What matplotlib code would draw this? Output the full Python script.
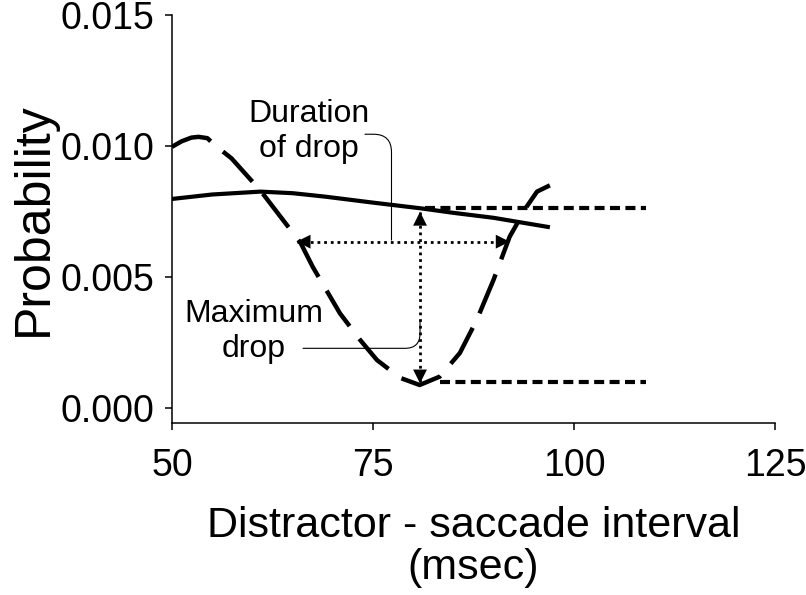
import numpy as np
import matplotlib.pyplot as plt
from matplotlib.ticker import FormatStrFormatter

plt.rcParams['font.family'] = ['Liberation Sans', 'DejaVu Sans']

# smooth (solid) curve
solid_x = [50, 55, 61, 65, 69, 75, 81, 85, 90, 97]
solid_y = [0.00798, 0.00815, 0.00826, 0.00820, 0.00807, 0.00784, 0.00762, 0.00745, 0.00726, 0.00690]

# dipping (long dashed) curve
dip_x = [50, 51.2, 52.4, 53.3, 54.4, 55.3, 57.4, 61, 62.2, 66, 67.5, 70.9, 73.4, 75.5, 78.4, 80.8,
         83.3, 85.8, 87.9, 90, 92, 94.1, 95.4, 97]
dip_y = [0.00997, 0.01018, 0.01032, 0.01035, 0.01030, 0.01004, 0.00953, 0.00830, 0.00782, 0.00630,
         0.00539, 0.00361, 0.00260, 0.00183, 0.00115, 0.00088,
         0.00120, 0.00210, 0.00336, 0.00490, 0.00654, 0.00768, 0.00826, 0.00850]

# reference levels (short dashed)
level_top = 0.00762
level_bottom = 0.00098
level_top_x = [81.5, 109]
level_bottom_x = [83.3, 109]

# arrows: maximum drop (vertical) and duration of drop (horizontal)
drop_x = 80.85
drop_y = [0.00749, 0.00094]
dur_y = 0.00635
dur_x = [65.5, 92.0]

fig = plt.figure(figsize=(8.06, 5.95), dpi=100)
ax = fig.add_axes([172/806, (595-423)/595, (775-172)/806, (423-15)/595])

ax.plot(solid_x, solid_y, color='black', lw=3.0, solid_capstyle='butt')
ax.plot(dip_x, dip_y, color='black', lw=3.2, dashes=(9.5, 3.6))
ax.plot(level_top_x, [level_top]*2, color='black', lw=3.0, dashes=(2.4, 1.3))
ax.plot(level_bottom_x, [level_bottom]*2, color='black', lw=3.0, dashes=(2.4, 1.3))

# dotted shafts, then solid heads
ax.plot([drop_x, drop_x], drop_y, color='black', lw=2.0, dashes=(1, 1.4))
ax.plot(dur_x, [dur_y, dur_y], color='black', lw=2.0, dashes=(1, 1.4))
head_kw = dict(arrowstyle='<|-|>,head_length=0.5,head_width=0.25', lw=0,
               facecolor='black', edgecolor='none', shrinkA=0, shrinkB=0, mutation_scale=20)
ax.annotate('', xy=(drop_x, drop_y[1]), xytext=(drop_x, drop_y[0]), arrowprops=head_kw)
ax.annotate('', xy=(dur_x[1], dur_y), xytext=(dur_x[0], dur_y), arrowprops=head_kw)

# labels with leader lines
ax.text(67.0, 0.01055, 'Duration\nof drop', fontsize=23, ha='center', va='center',
        linespacing=1.25)
ax.annotate('', xy=(77.3, 0.00641), xytext=(74.0, 0.01045),
            arrowprops=dict(arrowstyle='-', lw=0.8, color='black', shrinkA=0, shrinkB=0,
                            connectionstyle='angle,angleA=0,angleB=90,rad=18'))
ax.text(60.2, 0.00292, 'Maximum\ndrop', fontsize=23, ha='center', va='center',
        linespacing=1.25)
ax.annotate('', xy=(80.85, 0.00336), xytext=(66.3, 0.00228),
            arrowprops=dict(arrowstyle='-', lw=0.8, color='black', shrinkA=0, shrinkB=0,
                            connectionstyle='angle,angleA=0,angleB=90,rad=15'))

ax.set_xlim(50, 125)
ax.set_ylim(-0.00057, 0.015)
ax.set_xticks([50, 75, 100, 125])
ax.set_yticks([0, 0.005, 0.010, 0.015])
ax.yaxis.set_major_formatter(FormatStrFormatter('%.3f'))

for s in ['top', 'right']:
    ax.spines[s].set_visible(False)
for s in ['left', 'bottom']:
    ax.spines[s].set_linewidth(1.1)
ax.tick_params(axis='both', direction='out', length=5, width=1.1, labelsize=27)
ax.tick_params(axis='x', pad=13)
ax.tick_params(axis='y', pad=8)

ax.set_xlabel('Distractor - saccade interval\n(msec)', fontsize=31, linespacing=1.05,
              labelpad=16)
ax.set_ylabel('Probability', fontsize=36, labelpad=2)

fig.savefig('out.png', dpi=100)
